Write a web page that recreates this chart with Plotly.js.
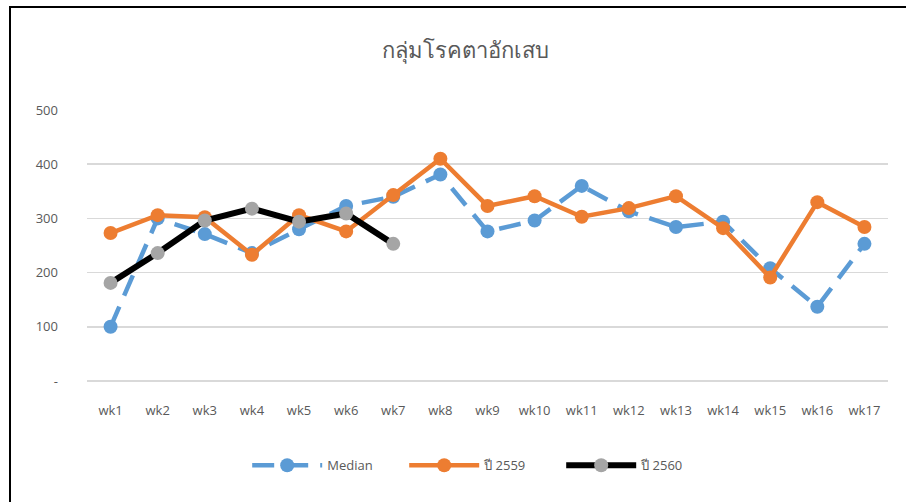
<!DOCTYPE html>
<html>
<head>
<meta charset="utf-8">
<script src="https://cdn.plot.ly/plotly-3.0.1.min.js"></script>
<style>
html,body{margin:0;padding:0;background:#fff;}
#chart{width:906px;height:502px;position:absolute;left:0;top:0;}
#frame{position:absolute;left:9px;top:6px;width:1000px;height:600px;border-left:2px solid #000;border-top:2px solid #000;pointer-events:none;}
</style>
</head>
<body>
<div id="chart"></div>
<div id="frame"></div>
<script>
const weeks = ["wk1","wk2","wk3","wk4","wk5","wk6","wk7","wk8","wk9","wk10","wk11","wk12","wk13","wk14","wk15","wk16","wk17"];
const median = [100,300,271,236,280,323,340,381,276,296,360,313,284,294,208,137,253];
const y2559 = [273,306,302,233,306,276,343,410,323,341,303,319,341,282,191,330,284];
const y2560 = [181,236,296,318,294,309,253];
const yTickVals = [0,100,200,300,400,500];
const yTickText = ["-","100","200","300","400","500"];

const fontFam = "'Open Sans','Noto Sans',sans-serif";
const traces = [
  {x: weeks, y: median, name: "Median", type: "scatter", mode: "lines+markers",
   line: {color: "#5B9BD5", width: 4.5, dash: "22px,12px"},
   marker: {color: "#5B9BD5", size: 14}},
  {x: weeks, y: y2559, name: "ปี 2559", type: "scatter", mode: "lines+markers",
   line: {color: "#ED7D31", width: 4.5},
   marker: {color: "#ED7D31", size: 14}},
  {x: weeks.slice(0, y2560.length), y: y2560, name: "ปี 2560", type: "scatter", mode: "lines+markers",
   line: {color: "#000000", width: 6},
   marker: {color: "#A5A5A5", size: 14}}
];
const layout = {
  width: 906, height: 502,
  paper_bgcolor: "#fff", plot_bgcolor: "#fff",
  margin: {l: 87, r: 18, t: 110, b: 121, autoexpand: false},
  font: {family: fontFam, color: "#595959", size: 13},
  title: {text: "กลุ่มโรคตาอักเสบ", x: 0.514, xanchor: "center", y: 0.9, yanchor: "middle",
          font: {size: 22, color: "#595959", family: fontFam}},
  xaxis: {type: "category", range: [-0.5, 16.5], showgrid: false, zeroline: false, showline: false,
          ticks: "", ticklabelstandoff: 20, tickfont: {size: 13, color: "#595959"}},
  yaxis: {range: [0, 500], tickvals: yTickVals, ticktext: yTickText, showgrid: true, gridcolor: "#D9D9D9",
          gridwidth: 1.5, zeroline: true, zerolinecolor: "#D9D9D9", zerolinewidth: 1.5,
          showline: false, ticks: "", ticklabelstandoff: 28,
          tickfont: {size: 13, color: "#595959"}},
  showlegend: true,
  legend: {orientation: "h", x: 0.494, xanchor: "center", y: -0.311, yanchor: "middle",
           itemwidth: 70, entrywidth: 72, entrywidthmode: "pixels",
           font: {size: 13, color: "#595959"}, bgcolor: "rgba(0,0,0,0)"}
};
Plotly.newPlot("chart", traces, layout, {displayModeBar: false, staticPlot: true});
</script>
</body>
</html>
